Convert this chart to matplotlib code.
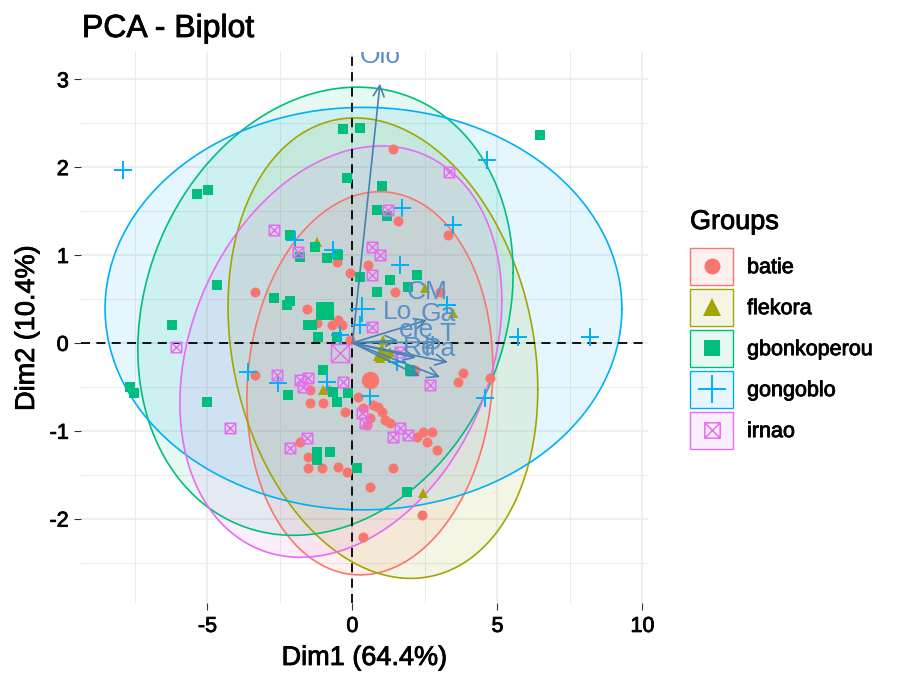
import numpy as np
import matplotlib
matplotlib.use("Agg")
import matplotlib.pyplot as plt
import matplotlib.patheffects as pe
from matplotlib.path import Path
from matplotlib.patches import Rectangle
from matplotlib.lines import Line2D
from matplotlib.legend_handler import HandlerBase

plt.rcParams['font.family'] = ['Liberation Sans', 'DejaVu Sans']
plt.rcParams['axes.unicode_minus'] = False

# groups / colours (ggplot hue palette)
groups = ['batie', 'flekora', 'gbonkoperou', 'gongoblo', 'irnao']
colors = ['#F8766D', '#A3A500', '#00BF7D', '#00B0F6', '#E76BF3']

# individuals (Dim1, Dim2)
batie_x = [1.4, 1.57, 3.29, -0.53, 0.53, -0.09, 1.47, 3.02, -1.57, -1.22, -0.71, -0.5, -0.36,
           -0.09, 2.16, 3.81, 3.64, -3.36, -3.36, -1.47, -0.84, -1.47, -1.02, -0.26, -1.81,
           -1.53, -1.53, -1.05, -0.5, -0.19, 0.19, 0.36, 0.71, 0.88, 1.02, 1.12, 0.6, 0.5,
           1.29, 2.43, 2.74, 2.22, 2.57, 2.91, 1.4, 0.6, 2.4, 4.74, 0.36]
batie_y = [2.21, 1.39, 1.23, 0.92, 0.89, 0.79, 0.58, 0.58, 0.38, 0.23, 0.2, 0.26, 0.2,
           0.03, -0.31, -0.34, -0.44, 0.58, -0.36, -0.54, -0.54, -0.68, -0.68, -0.79, -1.13,
           -1.3, -1.42, -1.42, -1.41, -1.47, -0.62, -0.74, -0.71, -0.73, -0.79, -0.88, -0.85, -0.93,
           -0.91, -1.01, -1.01, -1.07, -1.13, -1.22, -1.42, -1.64, -1.96, -0.4, -2.21]

flekora_x = [-1.22, 2.5, 3.47, 1.05, 0.95, 2.43, -1.02, 1.3]
flekora_y = [1.15, 0.63, 0.34, 0.03, -0.17, -1.71, -0.54, -0.1]

gbonko_x = [-5.36, -4.98, -2.16, -1.81, -4.67, -2.71, -2.26, -2.15, -6.22, -1.53, 0.84, -1.29,
            -0.88, -0.5, 0.26, 0.84, -1.4, -1.19, -0.53, -0.33, 0.26, -0.19, 1.02, 1.19, 1.29,
            2.22, 1.91, 1.98, 6.47, -7.67, -7.53, -5.02, -2.22, -1.02, -0.67, -0.53, -0.16,
            -1.22, -1.22, -0.78, 0.16, 1.88]
gbonko_y = [1.69, 1.74, 1.23, 0.98, 0.66, 0.51, 0.43, 0.48, 0.2, 0.2, 1.51, 1.09,
            0.97, 1.0, 0.75, 0.58, 0.2, 0.07, 0.07, 2.43, 2.45, 1.88, 1.78, 1.44, 0.72,
            0.77, 0.64, -0.31, 2.37, -0.5, -0.57, -0.67, -0.59, -0.31, -0.56, -0.67, -0.57,
            -1.24, -1.33, -1.24, -1.42, -1.7]

gongo_x = [-7.91, 4.64, 8.19, 5.71, 4.57, 3.47, 1.71, 1.64, 0.26, -0.67, -1.98, 3.26,
           -3.6, -2.57, -0.88, 0.6, 1.53, -0.43]
gongo_y = [1.97, 2.08, 0.07, 0.07, -0.63, 1.34, 1.54, 0.89, 0.2, 1.06, 1.17, 0.43,
           -0.33, -0.46, -0.44, -0.61, -0.22, 0.09]

irnao_x = [3.33, -2.71, -1.88, 0.67, 0.67, 0.67, 1.22, 0.95, 1.64, 2.67, -0.33, -6.09,
           -2.6, -1.81, -1.71, -1.53, -4.22, -1.57, -2.16, 0.33, 0.43, 1.4, 1.64, 1.91]
irnao_y = [1.94, 1.28, 1.03, 1.09, 0.77, 0.18, 1.51, 1.0, -0.1, -0.48, -0.44, -0.05,
           -0.36, -0.42, -0.5, -0.4, -0.97, -1.08, -1.2, -0.8, -0.91, -1.07, -0.97, -1.05]

# group centres (large markers)
mean_x = [0.6, 1.02, -0.95, 0.33, -0.43]
mean_y = [-0.42, -0.1, 0.36, 0.38, -0.11]

# ellipses: centre, half extents along Dim1/Dim2, correlation
ell_cx = [0.6, 1.05, -0.93, 0.38, -0.4]
ell_cy = [-0.46, -0.06, 0.36, 0.39, -0.1]
ell_sx = [4.24, 5.34, 6.47, 8.91, 5.55]
ell_sy = [2.18, 2.62, 2.55, 2.29, 2.34]
ell_r = [0.08, -0.18, 0.17, 0.0, 0.25]

# variables
var_names = ['Olo', 'CM', 'Lo', 'Ga', 'ele', 'T', 'Rd', 'Pa']
var_x = [0.95, 2.57, 1.57, 2.95, 2.19, 3.29, 2.33, 3.02]
var_y = [2.95, 0.26, 0.03, 0.01, -0.17, -0.22, -0.38, -0.39]

# square with a cross (ggplot shape 7)
sqx = Path([(-1, -1), (1, -1), (1, 1), (-1, 1), (-1, -1), (-1, -1), (1, 1), (-1, 1), (1, -1)],
           [Path.MOVETO, Path.LINETO, Path.LINETO, Path.LINETO, Path.CLOSEPOLY,
            Path.MOVETO, Path.LINETO, Path.MOVETO, Path.LINETO])

markers = ['o', '^', 's', '+', sqx]
small_ms = [7.2, 7.8, 6.8, 12.5, 7.5]
big_ms = [12.5, 13.5, 12.5, 18, 13]
legend_ms = [11.5, 13, 11.5, 20, 11]

pts = [(batie_x, batie_y), (flekora_x, flekora_y), (gbonko_x, gbonko_y),
       (gongo_x, gongo_y), (irnao_x, irnao_y)]

heavy = [pe.withStroke(linewidth=0.6, foreground='black')]


def style(i, ms):
    c = colors[i]
    if i == 3:
        return dict(marker='+', ms=ms, mec=c, mew=1.4, ls='none')
    if i == 4:
        return dict(marker=sqx, ms=ms, mec=c, mfc='none', mew=1.1, ls='none')
    return dict(marker=markers[i], ms=ms, mec=c, mfc=c, mew=0, ls='none')


class Key:
    def __init__(self, i):
        self.i = i


class KeyHandler(HandlerBase):
    def create_artists(self, legend, orig_handle, xdescent, ydescent, width, height,
                       fontsize, trans):
        i = orig_handle.i
        box = Rectangle((-xdescent, -ydescent), width, height,
                        facecolor=matplotlib.colors.to_rgba(colors[i], 0.1),
                        edgecolor=colors[i], lw=1.0, transform=trans)
        mk = Line2D([width / 2 - xdescent], [height / 2 - ydescent], transform=trans,
                    **style(i, legend_ms[i]))
        return [box, mk]


fig = plt.figure(figsize=(8.99, 6.74), dpi=100)
ax = fig.add_axes([81 / 899, 71 / 674, 567 / 899, 551 / 674])
ax.set_xlim(-9.36, 10.19)
ax.set_ylim(-2.96, 3.31)

ax.set_xticks([-5, 0, 5, 10])
ax.set_yticks([-2, -1, 0, 1, 2, 3])
ax.set_xticks([-7.5, -2.5, 2.5, 7.5], minor=True)
ax.set_yticks([-2.5, -1.5, -0.5, 0.5, 1.5, 2.5], minor=True)
ax.grid(which='major', color='#EBEBEB', lw=1.1)
ax.grid(which='minor', color='#EBEBEB', lw=0.7)
ax.set_axisbelow(True)
for s in ax.spines.values():
    s.set_visible(False)
ax.tick_params(which='major', length=4.8, width=0.8, color='#333333',
               labelsize=15.5, labelcolor='black')
ax.tick_params(axis='x', pad=4.5)
ax.tick_params(axis='y', pad=4)
ax.tick_params(which='minor', length=0)
for lab in ax.get_xticklabels() + ax.get_yticklabels():
    lab.set_path_effects(heavy)

t = np.linspace(0, 2 * np.pi, 200)
for i in range(5):
    ex = ell_cx[i] + ell_sx[i] * np.cos(t)
    ey = ell_cy[i] + ell_sy[i] * (ell_r[i] * np.cos(t) + np.sqrt(1 - ell_r[i] ** 2) * np.sin(t))
    ax.fill(ex, ey, facecolor=colors[i], alpha=0.1, edgecolor='none', zorder=2)
    ax.plot(ex, ey, color=colors[i], lw=1.2, zorder=2.2)

ax.axhline(0, color='black', lw=1.3, ls=(0, (5, 3.5)), zorder=2.5)
ax.axvline(0, color='black', lw=1.3, ls=(0, (5, 3.5)), zorder=2.5)

for i, (px, py) in enumerate(pts):
    ax.plot(px, py, zorder=3, **style(i, small_ms[i]))
for i in range(5):
    ax.plot([mean_x[i]], [mean_y[i]], zorder=4, **style(i, big_ms[i]))

for name, vx, vy in zip(var_names, var_x, var_y):
    ax.annotate('', xy=(vx, vy), xytext=(0, 0),
                arrowprops=dict(arrowstyle='->,head_length=0.6,head_width=0.3',
                                color='steelblue', lw=1.2, shrinkA=0, shrinkB=0,
                                mutation_scale=13), zorder=5)
    ax.annotate(name, xy=(vx, vy), xytext=(0, 20), textcoords='offset points',
                ha='center', va='center', fontsize=19, color='#5A8FC8',
                zorder=6, annotation_clip=False, clip_on=True)

fig.text(82 / 899, 1 - 29 / 674, 'PCA - Biplot', fontsize=23, ha='left', va='center',
         path_effects=heavy)
fig.text(364.5 / 899, 1 - 658 / 674, 'Dim1 (64.4%)', fontsize=19.5, ha='center', va='center',
         path_effects=heavy)
fig.text(27 / 899, 1 - 328 / 674, 'Dim2 (10.4%)', fontsize=19.5, ha='center', va='center',
         rotation=90, path_effects=heavy)

# legend: title as its own text, keys below it
fig.text(690 / 899, 1 - 222 / 674, 'Groups', fontsize=19.5, ha='left', va='center',
         path_effects=heavy)
leg = fig.legend([Key(i) for i in range(5)], groups, handler_map={Key: KeyHandler()},
                 loc='upper left', bbox_to_anchor=(690 / 899, 1 - 248 / 674),
                 frameon=False, fontsize=15.5,
                 handlelength=2.0, handleheight=2.26, labelspacing=0.19, handletextpad=0.65,
                 borderpad=0.0, borderaxespad=0.0)
for txt in leg.get_texts():
    txt.set_path_effects(heavy)

fig.savefig('out.png', dpi=100)
